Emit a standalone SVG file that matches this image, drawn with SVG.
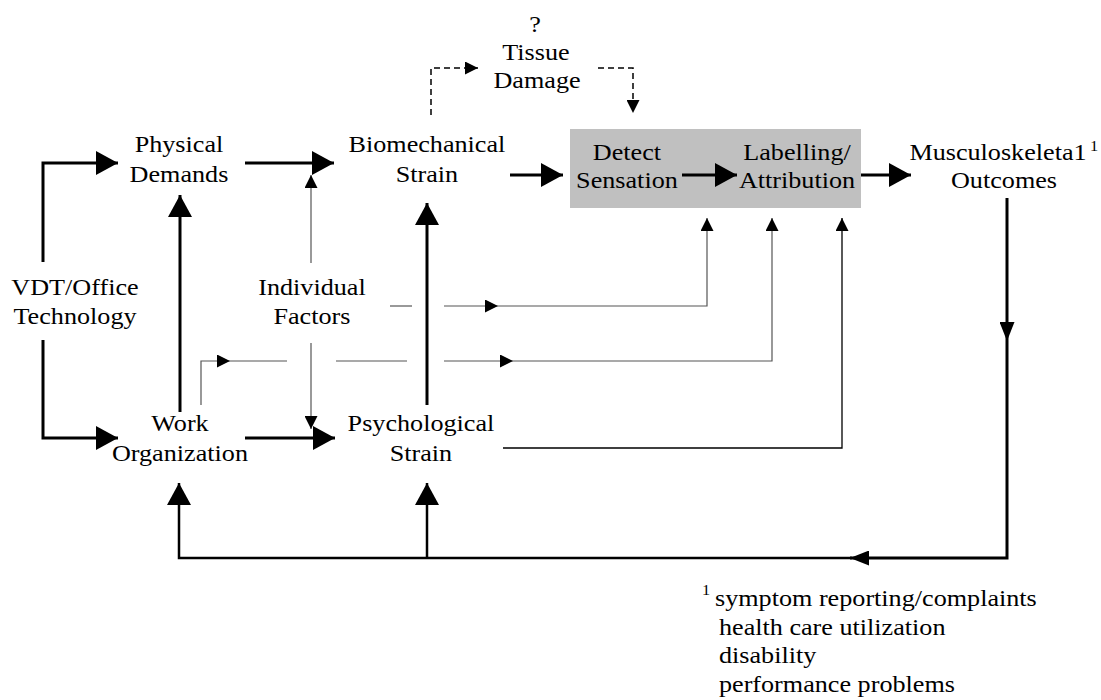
<svg xmlns="http://www.w3.org/2000/svg" width="1101" height="700" viewBox="0 0 1101 700">
<style>
text{font-family:"Liberation Serif","Times New Roman",serif;font-size:24px;fill:#000}
.c{text-anchor:middle}
.sup{font-size:15px}
.thick{fill:none;stroke:#000;stroke-width:3}
.bot{fill:none;stroke:#000;stroke-width:2.5}
.thin{fill:none;stroke:#555;stroke-width:1.2}
.thinb{fill:none;stroke:#000;stroke-width:1.3}
.dash{fill:none;stroke:#000;stroke-width:1.5;stroke-dasharray:6 4}
</style>
<defs>
<marker id="big" markerUnits="userSpaceOnUse" markerWidth="22" markerHeight="24" refX="22" refY="12" orient="auto"><path d="M0,0 L22,12 L0,24 z" fill="#000"/></marker>
<marker id="med" markerUnits="userSpaceOnUse" markerWidth="19" markerHeight="15" refX="19" refY="7.5" orient="auto"><path d="M0,0 L19,7.5 L0,15 z" fill="#000"/></marker>
<marker id="sm" markerUnits="userSpaceOnUse" markerWidth="13" markerHeight="13" refX="13" refY="6.5" orient="auto"><path d="M0,0 L13,6.5 L0,13 z" fill="#000"/></marker>
</defs>
<g id="box"><rect x="570" y="129" width="291" height="79" fill="#c0c0c0"/></g>
<g id="connectors">
<path class="thick" d="M43,262 V163 H118" marker-end="url(#big)"/>
<path class="thick" d="M43,340 V438 H118" marker-end="url(#big)"/>
<path class="thick" d="M245,163 H334" marker-end="url(#big)"/>
<path class="thick" d="M245,438 H335" marker-end="url(#big)"/>
<path class="thick" d="M180,412 V195" marker-end="url(#big)"/>
<path class="thick" d="M427,405 V203" marker-end="url(#big)"/>
<path class="thick" d="M510,175 H563" marker-end="url(#big)"/>
<path class="thick" d="M682,175 H737" marker-end="url(#big)"/>
<path class="thick" d="M861,175 H911" marker-end="url(#big)"/>
<path class="thick" d="M1007,198 V341" marker-end="url(#med)"/>
<path class="thick" d="M1007,341 V558 H850" marker-end="url(#med)"/>
<path class="bot" d="M852,558 H179 V483" marker-end="url(#big)"/>
<path class="bot" d="M427,558 V483" marker-end="url(#big)"/>
<path class="thin" d="M311,263 V175" marker-end="url(#sm)"/>
<path class="thin" d="M311,343 V429" marker-end="url(#sm)"/>
<path class="thin" d="M390,306 H412"/>
<path class="thin" d="M444,306 H498" marker-end="url(#sm)"/>
<path class="thin" d="M498,306 H707 V218" marker-end="url(#sm)"/>
<path class="thin" d="M201,405 V361 H230" marker-end="url(#sm)"/>
<path class="thin" d="M230,361 H287"/>
<path class="thin" d="M336,361 H407"/>
<path class="thin" d="M444,361 H513" marker-end="url(#sm)"/>
<path class="thin" d="M513,361 H772 V218" marker-end="url(#sm)"/>
<path class="thinb" d="M503,448 H842 V218" marker-end="url(#sm)"/>
<path class="dash" d="M431,115 V68 H478" marker-end="url(#sm)"/>
<path class="dash" d="M598,68 H633 V113" marker-end="url(#sm)"/>
</g>
<g transform="scale(1.09 1)">
<g id="tissue"><text class="c" x="490.8" y="32">?</text><text class="c" x="491.7" y="60">Tissue</text><text class="c" x="492.7" y="88">Damage</text></g>
<g id="physical"><text class="c" x="164.2" y="152">Physical</text><text class="c" x="164.2" y="182">Demands</text></g>
<g id="biomech"><text class="c" x="391.7" y="152">Biomechanical</text><text class="c" x="391.7" y="182">Strain</text></g>
<g id="detect"><text class="c" x="575.2" y="160">Detect</text><text class="c" x="575.2" y="188">Sensation</text></g>
<g id="label"><text class="c" x="731.2" y="160">Labelling/</text><text class="c" x="731.2" y="188">Attribution</text></g>
<g id="outcomes"><text class="c" x="915.6" y="160">Musculoskeleta1</text><text class="sup" x="1000" y="151">1</text><text class="c" x="921.1" y="188">Outcomes</text></g>
<g id="vdt"><text class="c" x="68.8" y="295">VDT/Office</text><text class="c" x="68.8" y="324">Technology</text></g>
<g id="individual"><text class="c" x="286.2" y="295">Individual</text><text class="c" x="286.2" y="324">Factors</text></g>
<g id="work"><text class="c" x="165.1" y="431">Work</text><text class="c" x="165.1" y="461">Organization</text></g>
<g id="psych"><text class="c" x="386.2" y="431">Psychological</text><text class="c" x="386.2" y="461">Strain</text></g>
<g id="footnote"><text class="sup" x="644" y="595">1</text><text x="656" y="606">symptom reporting/complaints</text><text x="659.6" y="635">health care utilization</text><text x="659.6" y="663">disability</text><text x="659.6" y="692">performance problems</text></g>
</g>
</svg>
